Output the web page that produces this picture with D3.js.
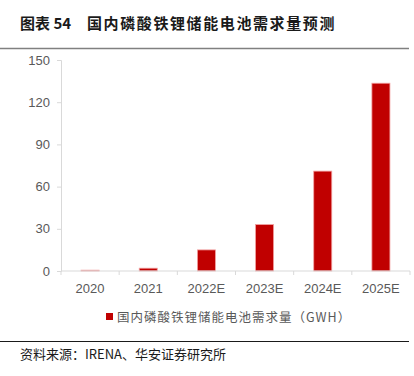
<!DOCTYPE html>
<html>
<head>
<meta charset="utf-8">
<script src="https://cdn.jsdelivr.net/npm/d3@7"></script>
<style>
  body { margin: 0; background: #fff; }
  svg { display: block; font-family: "Liberation Sans", Arial, sans-serif; }
</style>
</head>
<body>
<div id="chart"></div>
<script>
var categories = ["2020", "2021", "2022E", "2023E", "2024E", "2025E"];
var demand = [0.6, 2, 15, 33, 71, 133.5];
var yTicks = [0, 30, 60, 90, 120, 150];
var titleLabel = "图表 54";
var titleText = "国内磷酸铁锂储能电池需求量预测";
var seriesName = "国内磷酸铁锂储能电池需求量（GWH）";

var width = 414, height = 376;

var svg = d3.select("#chart").append("svg")
    .attr("width", width)
    .attr("height", height);

// title
svg.append("text")
    .attr("x", 20)
    .attr("y", 29)
    .style("font-family", "'Noto Sans CJK SC', sans-serif")
    .style("font-size", "15px")
    .style("font-weight", "bold")
    .attr("fill", "#1a1a1a")
    .text(titleLabel);
svg.append("text")
    .attr("x", 87)
    .attr("y", 29)
    .style("font-family", "'Noto Sans CJK SC', sans-serif")
    .style("font-size", "15px")
    .style("font-weight", "bold")
    .style("letter-spacing", "1.6px")
    .attr("fill", "#1a1a1a")
    .text(titleText);

svg.append("line")
    .attr("x1", 0).attr("x2", 409)
    .attr("y1", 48.5).attr("y2", 48.5)
    .attr("stroke", "#808080")
    .attr("stroke-width", 1.5);

var x = d3.scaleBand()
    .domain(categories)
    .range([61, 410])
    .paddingInner(0.69)
    .paddingOuter(0.345);

var y = d3.scaleLinear()
    .domain([0, 150])
    .range([271, 60]);

// y axis
var yAxis = svg.append("g")
    .attr("transform", "translate(61,0)")
    .call(d3.axisLeft(y).tickValues(yTicks).tickSize(4).tickPadding(7));
yAxis.select(".domain").attr("stroke", "#d9d9d9");
yAxis.selectAll(".tick line").attr("stroke", "#d9d9d9");
yAxis.selectAll("text")
    .attr("fill", "#595959")
    .style("font-size", "13px")
    .style("font-family", "'Liberation Sans', Arial, sans-serif");

// bars
svg.selectAll(".bar")
    .data(demand)
    .enter().append("rect")
    .attr("class", "bar")
    .attr("x", function(d, i) { return x(categories[i]); })
    .attr("width", x.bandwidth())
    .attr("y", function(d) { return y(d); })
    .attr("height", function(d) { return y(0) - y(d); })
    .attr("fill", "#c00000")
    .attr("stroke", "#f2a0a0")
    .attr("stroke-width", 0.8);

// x axis
var xEdges = d3.scaleLinear().domain([0, categories.length]).range([61, 410]);
var xAxis = svg.append("g")
    .attr("transform", "translate(0,271)");
xAxis.append("line")
    .attr("x1", 61).attr("x2", 410)
    .attr("stroke", "#d9d9d9");
xAxis.selectAll(".edge")
    .data(d3.range(categories.length + 1))
    .enter().append("line")
    .attr("class", "edge")
    .attr("x1", function(d) { return xEdges(d); })
    .attr("x2", function(d) { return xEdges(d); })
    .attr("y1", 0).attr("y2", 4)
    .attr("stroke", "#d9d9d9");
xAxis.selectAll(".lbl")
    .data(categories)
    .enter().append("text")
    .attr("class", "lbl")
    .attr("x", function(d) { return x(d) + x.bandwidth() / 2; })
    .attr("y", 22)
    .attr("text-anchor", "middle")
    .attr("fill", "#595959")
    .style("font-size", "13px")
    .text(function(d) { return d; });

// legend
var legend = svg.append("g").attr("transform", "translate(106,318)");
legend.append("rect")
    .attr("x", 0).attr("y", -5)
    .attr("width", 7).attr("height", 7)
    .attr("fill", "#c00000");
legend.append("text")
    .attr("x", 11)
    .attr("y", 4)
    .attr("fill", "#595959")
    .style("font-family", "'Noto Sans CJK SC', sans-serif")
    .style("font-size", "12.5px")
    .style("letter-spacing", "1px")
    .text(seriesName);

svg.append("line")
    .attr("x1", 0).attr("x2", 409)
    .attr("y1", 341.5).attr("y2", 341.5)
    .attr("stroke", "#1a1a1a")
    .attr("stroke-width", 1);

svg.append("text")
    .attr("x", 20)
    .attr("y", 359)
    .attr("fill", "#1a1a1a")
    .style("font-family", "'Noto Sans CJK SC', sans-serif")
    .style("font-size", "13px")
    .text("资料来源：IRENA、华安证券研究所");
</script>
</body>
</html>
